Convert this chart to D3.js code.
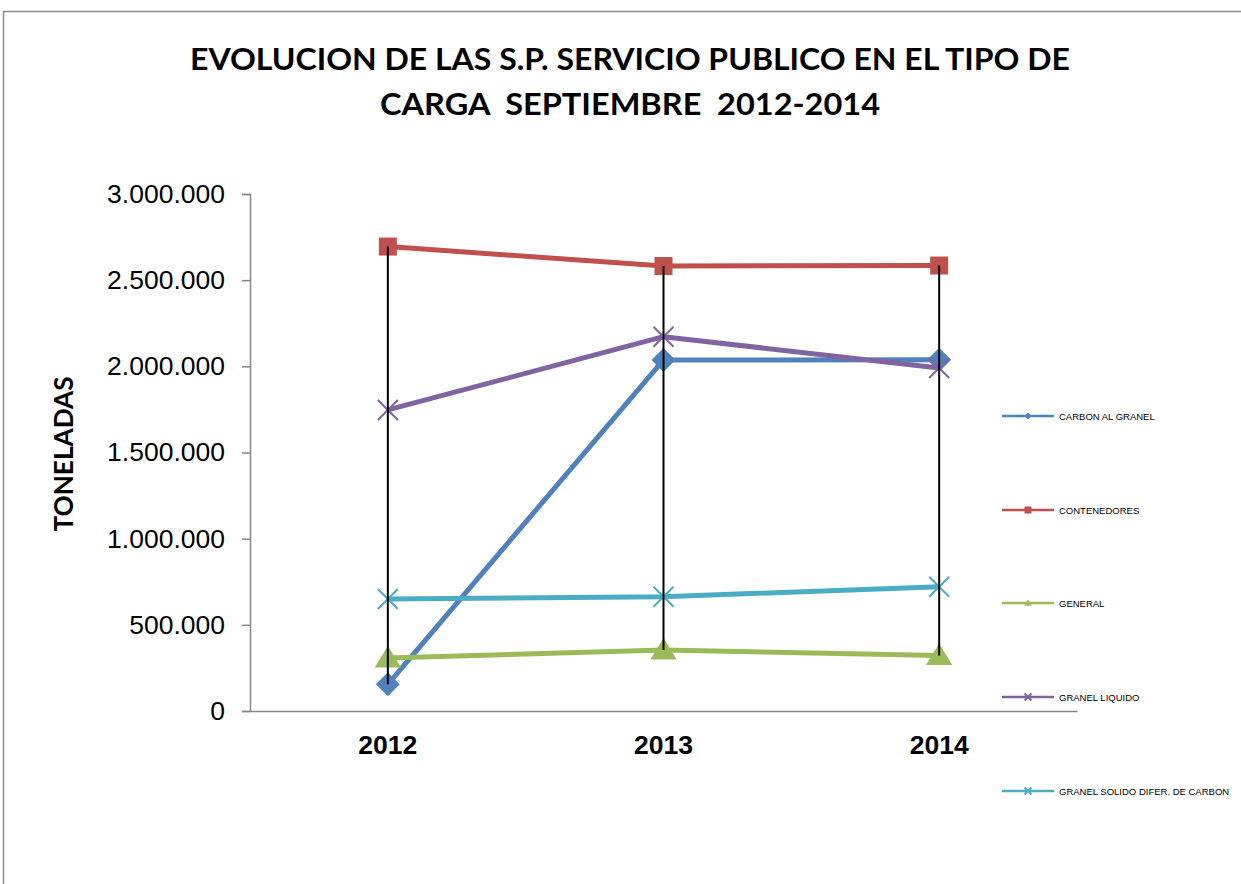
<!DOCTYPE html>
<html><head><meta charset="utf-8">
<script src="https://cdn.jsdelivr.net/npm/d3@7"></script>
<style>body{margin:0;background:#fff;} svg{display:block;}</style>
</head><body>
<script>
const categories = ["2012", "2013", "2014"];
const seriesNames = ["CARBON AL GRANEL", "CONTENEDORES", "GENERAL", "GRANEL LIQUIDO", "GRANEL SOLIDO DIFER. DE CARBON"];
const carbon = [155000, 2037000, 2038000];
const contenedores = [2695000, 2582000, 2585000];
const general = [308000, 354000, 322000];
const granelLiquido = [1747000, 2172000, 1990000];
const granelSolido = [650000, 663000, 721000];
const yTicks = [0, 500000, 1000000, 1500000, 2000000, 2500000, 3000000];
const titleLines = ["EVOLUCION DE LAS S.P. SERVICIO PUBLICO EN EL TIPO DE", "CARGA  SEPTIEMBRE  2012-2014"];

const colors = ["#4F81BD", "#C0504D", "#9BBB59", "#8064A2", "#4BACC6"];
const markers = ["diamond", "square", "triangle", "x", "x"];
const values = [carbon, contenedores, general, granelLiquido, granelSolido];

const W = 1241, H = 884;
const svg = d3.select("body").append("svg").attr("width", W).attr("height", H);

// outer frame
svg.append("rect").attr("x", 3.5).attr("y", 11.5).attr("width", 1400).attr("height", 1000)
  .attr("fill", "none").attr("stroke", "#8c8c8c").attr("stroke-width", 1.5);

// title
const titleLens = [880, 500];
titleLines.forEach((t, i) => {
  svg.append("text").attr("x", 630).attr("y", 70 + i * 45).attr("text-anchor", "middle")
    .attr("font-family", "Lato, 'Open Sans', sans-serif").attr("font-weight", "bold")
    .attr("font-size", 31).attr("fill", "#000")
    .attr("textLength", titleLens[i]).attr("lengthAdjust", "spacingAndGlyphs")
    .style("white-space", "pre").text(t);
});

const x = d3.scaleBand().domain(categories).range([250, 1077]);
const y = d3.scaleLinear().domain([0, 3000000]).range([711, 194]);
const fmt = v => d3.format(",")(v).replace(/,/g, ".");

// y axis
const yAxis = svg.append("g").attr("transform", "translate(250,0)")
  .call(d3.axisLeft(y).tickValues(yTicks).tickFormat(fmt).tickSize(8).tickPadding(17));
yAxis.select(".domain").attr("stroke", "#868686").attr("stroke-width", 1.5);
yAxis.selectAll(".tick line").attr("stroke", "#868686").attr("stroke-width", 1.5);
yAxis.selectAll(".tick text").attr("font-family", "Liberation Sans, Arial, sans-serif")
  .attr("font-size", 26.5).attr("fill", "#000");

// x axis
const xAxis = svg.append("g").attr("transform", "translate(0,711)")
  .call(d3.axisBottom(x).tickSize(0).tickPadding(24));
xAxis.select(".domain").attr("stroke", "#868686").attr("stroke-width", 1.5);
xAxis.selectAll(".tick text").attr("font-family", "Liberation Sans, Arial, sans-serif")
  .attr("font-weight", "bold").attr("font-size", 26.5).attr("fill", "#000");

// y label
svg.append("text").attr("transform", "translate(73,454) rotate(-90)").attr("text-anchor", "middle")
  .attr("font-family", "Lato, 'Open Sans', sans-serif").attr("font-weight", "bold")
  .attr("font-size", 27).attr("fill", "#000")
  .attr("textLength", 155).attr("lengthAdjust", "spacingAndGlyphs").text("TONELADAS");

const cx = c => x(c) + x.bandwidth() / 2;

function drawMarker(g, type, px, py, color, s) {
  if (type === "diamond") {
    g.append("path").attr("d", `M${px},${py - s}L${px + s},${py}L${px},${py + s}L${px - s},${py}Z`).attr("fill", color);
  } else if (type === "square") {
    g.append("rect").attr("x", px - s).attr("y", py - s).attr("width", 2 * s).attr("height", 2 * s).attr("fill", color);
  } else if (type === "triangle") {
    g.append("path").attr("d", `M${px},${py - s}L${px + s * 1.1},${py + s * 0.8}L${px - s * 1.1},${py + s * 0.8}Z`).attr("fill", color);
  } else {
    g.append("path").attr("d", `M${px - s},${py - s}L${px + s},${py + s}M${px - s},${py + s}L${px + s},${py - s}`)
      .attr("stroke", color).attr("stroke-width", 2).attr("fill", "none");
  }
}

const line = d3.line().x((d, i) => cx(categories[i])).y(d => y(d));
const plot = svg.append("g");
values.forEach((vals, si) => {
  const g = plot.append("g");
  g.append("path").datum(vals).attr("d", line).attr("fill", "none")
    .attr("stroke", colors[si]).attr("stroke-width", 5).attr("stroke-linejoin", "round");
  vals.forEach((v, i) => {
    const sz = markers[si] === "square" ? 9 : (markers[si] === "x" ? 10 : 12);
    drawMarker(g, markers[si], cx(categories[i]), y(v), colors[si], sz);
  });
});

// high-low lines
categories.forEach((c, i) => {
  const vs = values.map(v => v[i]);
  svg.append("line").attr("x1", cx(c)).attr("x2", cx(c))
    .attr("y1", y(d3.max(vs))).attr("y2", y(d3.min(vs)))
    .attr("stroke", "#000").attr("stroke-width", 2);
});

// legend
const legY = [416, 510, 603, 697, 791];
seriesNames.forEach((n, i) => {
  const g = svg.append("g");
  g.append("line").attr("x1", 1002).attr("x2", 1054).attr("y1", legY[i]).attr("y2", legY[i])
    .attr("stroke", colors[i]).attr("stroke-width", 2.5);
  drawMarker(g, markers[i], 1028, legY[i], colors[i], 3.5);
  g.append("text").attr("x", 1059).attr("y", legY[i] + 3.5)
    .attr("font-family", "Liberation Sans, Arial, sans-serif").attr("font-size", 9.5)
    .attr("fill", "#000").text(n);
});
</script>
</body></html>
